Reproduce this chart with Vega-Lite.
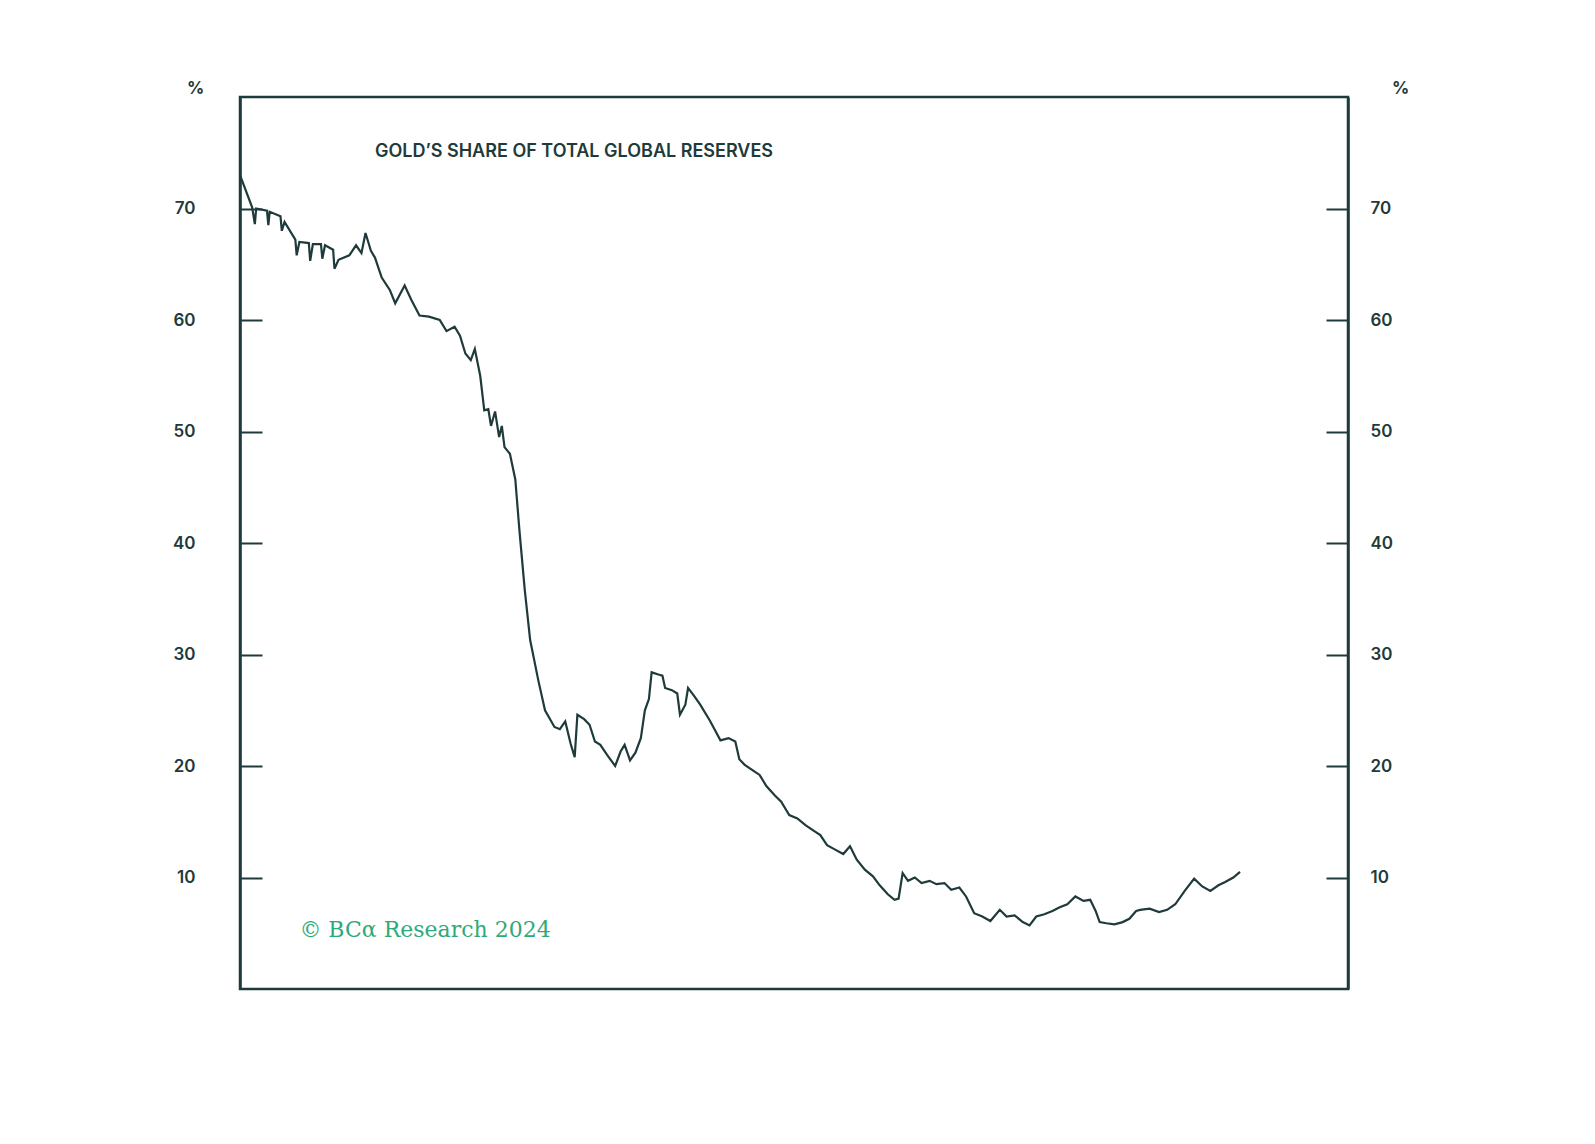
{
  "$schema": "https://vega.github.io/schema/vega-lite/v6.json",
  "width": 1108,
  "height": 892,
  "autosize": "none",
  "padding": {"left": 240, "top": 97, "right": 247, "bottom": 155},
  "background": "white",
  "config": {
    "view": {"stroke": "#1f3a3a", "strokeWidth": 2.5},
    "font": "Inter",
    "axis": {"labelFont": "Inter", "labelFontSize": 17, "labelFontWeight": 600, "labelColor": "#1f3a3a", "domainColor": "#1f3a3a", "domainWidth": 2.5, "tickColor": "#1f3a3a", "tickWidth": 2, "grid": false}
  },
  "datasets": {
    "gold": [
      {"year": 1950.0, "pct": 73.0}, {"year": 1950.9, "pct": 70.1}, {"year": 1951.1, "pct": 68.6}, {"year": 1951.2, "pct": 70.0},
      {"year": 1952.0, "pct": 69.8}, {"year": 1952.1, "pct": 68.5}, {"year": 1952.2, "pct": 69.7}, {"year": 1953.0, "pct": 69.3},
      {"year": 1953.1, "pct": 68.0}, {"year": 1953.3, "pct": 68.8}, {"year": 1954.1, "pct": 67.2}, {"year": 1954.2, "pct": 65.8},
      {"year": 1954.4, "pct": 67.0}, {"year": 1955.1, "pct": 66.9}, {"year": 1955.2, "pct": 65.3}, {"year": 1955.4, "pct": 66.8},
      {"year": 1956.0, "pct": 66.8}, {"year": 1956.1, "pct": 65.5}, {"year": 1956.3, "pct": 66.7}, {"year": 1956.9, "pct": 66.3},
      {"year": 1957.0, "pct": 64.6}, {"year": 1957.3, "pct": 65.4}, {"year": 1958.1, "pct": 65.8}, {"year": 1958.6, "pct": 66.7},
      {"year": 1959.0, "pct": 66.0}, {"year": 1959.3, "pct": 67.8}, {"year": 1959.7, "pct": 66.2}, {"year": 1960.0, "pct": 65.6},
      {"year": 1960.5, "pct": 63.8}, {"year": 1961.1, "pct": 62.7}, {"year": 1961.5, "pct": 61.5}, {"year": 1962.2, "pct": 63.1},
      {"year": 1962.7, "pct": 61.8}, {"year": 1963.3, "pct": 60.4}, {"year": 1964.0, "pct": 60.3}, {"year": 1964.8, "pct": 60.0},
      {"year": 1965.3, "pct": 59.0}, {"year": 1965.9, "pct": 59.4}, {"year": 1966.3, "pct": 58.6}, {"year": 1966.7, "pct": 57.0},
      {"year": 1967.1, "pct": 56.4}, {"year": 1967.4, "pct": 57.4}, {"year": 1967.8, "pct": 55.0}, {"year": 1968.1, "pct": 51.9},
      {"year": 1968.4, "pct": 52.0}, {"year": 1968.6, "pct": 50.5}, {"year": 1968.9, "pct": 51.8}, {"year": 1969.2, "pct": 49.5},
      {"year": 1969.4, "pct": 50.5}, {"year": 1969.6, "pct": 48.6}, {"year": 1970.0, "pct": 48.0}, {"year": 1970.4, "pct": 45.7},
      {"year": 1970.7, "pct": 41.2}, {"year": 1971.1, "pct": 35.8}, {"year": 1971.5, "pct": 31.3}, {"year": 1972.1, "pct": 27.7},
      {"year": 1972.6, "pct": 25.0}, {"year": 1973.3, "pct": 23.5}, {"year": 1973.7, "pct": 23.3}, {"year": 1974.1, "pct": 24.0},
      {"year": 1974.5, "pct": 22.0}, {"year": 1974.8, "pct": 20.8}, {"year": 1975.0, "pct": 24.6}, {"year": 1975.5, "pct": 24.2},
      {"year": 1975.9, "pct": 23.7}, {"year": 1976.3, "pct": 22.2}, {"year": 1976.7, "pct": 21.9}, {"year": 1977.2, "pct": 21.0},
      {"year": 1977.8, "pct": 20.0}, {"year": 1978.2, "pct": 21.3}, {"year": 1978.5, "pct": 21.9}, {"year": 1978.9, "pct": 20.5},
      {"year": 1979.3, "pct": 21.2}, {"year": 1979.7, "pct": 22.5}, {"year": 1980.0, "pct": 25.0}, {"year": 1980.3, "pct": 26.0},
      {"year": 1980.5, "pct": 28.4}, {"year": 1981.0, "pct": 28.2}, {"year": 1981.3, "pct": 28.1}, {"year": 1981.5, "pct": 27.0},
      {"year": 1982.0, "pct": 26.8}, {"year": 1982.4, "pct": 26.5}, {"year": 1982.6, "pct": 24.6}, {"year": 1983.0, "pct": 25.5},
      {"year": 1983.2, "pct": 27.0}, {"year": 1983.7, "pct": 26.2}, {"year": 1984.1, "pct": 25.5}, {"year": 1984.8, "pct": 24.1},
      {"year": 1985.2, "pct": 23.2}, {"year": 1985.6, "pct": 22.3}, {"year": 1986.2, "pct": 22.5}, {"year": 1986.7, "pct": 22.2},
      {"year": 1987.0, "pct": 20.6}, {"year": 1987.4, "pct": 20.1}, {"year": 1988.0, "pct": 19.6}, {"year": 1988.5, "pct": 19.2},
      {"year": 1989.0, "pct": 18.2}, {"year": 1989.6, "pct": 17.4}, {"year": 1990.1, "pct": 16.8}, {"year": 1990.7, "pct": 15.6},
      {"year": 1991.3, "pct": 15.3}, {"year": 1991.9, "pct": 14.7}, {"year": 1992.5, "pct": 14.2}, {"year": 1993.0, "pct": 13.8},
      {"year": 1993.5, "pct": 12.9}, {"year": 1994.1, "pct": 12.5}, {"year": 1994.7, "pct": 12.1}, {"year": 1995.2, "pct": 12.8},
      {"year": 1995.7, "pct": 11.6}, {"year": 1996.3, "pct": 10.7}, {"year": 1996.9, "pct": 10.1}, {"year": 1997.4, "pct": 9.3},
      {"year": 1998.0, "pct": 8.5}, {"year": 1998.5, "pct": 8.0}, {"year": 1998.8, "pct": 8.1}, {"year": 1999.1, "pct": 10.4},
      {"year": 1999.5, "pct": 9.7}, {"year": 2000.0, "pct": 10.0}, {"year": 2000.5, "pct": 9.5}, {"year": 2001.1, "pct": 9.7},
      {"year": 2001.6, "pct": 9.4}, {"year": 2002.2, "pct": 9.5}, {"year": 2002.7, "pct": 8.9}, {"year": 2003.3, "pct": 9.1},
      {"year": 2003.8, "pct": 8.3}, {"year": 2004.4, "pct": 6.8}, {"year": 2005.0, "pct": 6.5}, {"year": 2005.6, "pct": 6.1},
      {"year": 2006.3, "pct": 7.1}, {"year": 2006.8, "pct": 6.5}, {"year": 2007.4, "pct": 6.6}, {"year": 2008.0, "pct": 6.0},
      {"year": 2008.5, "pct": 5.7}, {"year": 2009.0, "pct": 6.5}, {"year": 2009.6, "pct": 6.7}, {"year": 2010.2, "pct": 7.0},
      {"year": 2010.7, "pct": 7.3}, {"year": 2011.3, "pct": 7.6}, {"year": 2011.9, "pct": 8.3}, {"year": 2012.5, "pct": 7.9},
      {"year": 2013.0, "pct": 8.0}, {"year": 2013.4, "pct": 7.0}, {"year": 2013.7, "pct": 6.0}, {"year": 2014.2, "pct": 5.9},
      {"year": 2014.8, "pct": 5.8}, {"year": 2015.4, "pct": 6.0}, {"year": 2015.9, "pct": 6.3}, {"year": 2016.4, "pct": 7.0},
      {"year": 2016.7, "pct": 7.1}, {"year": 2017.4, "pct": 7.2}, {"year": 2018.1, "pct": 6.9}, {"year": 2018.7, "pct": 7.1},
      {"year": 2019.3, "pct": 7.6}, {"year": 2020.0, "pct": 8.8}, {"year": 2020.7, "pct": 9.9}, {"year": 2021.3, "pct": 9.2},
      {"year": 2021.9, "pct": 8.8}, {"year": 2022.5, "pct": 9.3}, {"year": 2023.0, "pct": 9.6}, {"year": 2023.6, "pct": 10.0},
      {"year": 2024.1, "pct": 10.5}
    ],
    "notes": [
      {"year": 1960, "pct": 75.1, "label": "GOLD’S SHARE OF TOTAL GLOBAL RESERVES", "kind": "title"},
      {"year": 1954.4, "pct": 5.3, "label": "© BCα Research 2024", "kind": "credit"}
    ]
  },
  "layer": [
    {
      "data": {"name": "gold"},
      "mark": {"type": "line", "color": "#1f3a3a", "strokeWidth": 2.2},
      "encoding": {
        "x": {"field": "year", "type": "quantitative", "scale": {"domain": [1950, 2032.1], "nice": false, "zero": false},
          "axis": {"title": null, "values": [1950, 1960, 1970, 1980, 1990, 2000, 2010, 2020], "format": "d", "tickSize": -20, "labelAlign": "left", "labelPadding": 36}},
        "y": {"field": "pct", "type": "quantitative", "scale": {"domain": [0, 80], "nice": false},
          "axis": {"title": "%", "titleAngle": 0, "titleX": -45, "titleY": 0, "titleFontSize": 17, "titleColor": "#1f3a3a", "titleFont": "Inter", "titleAlign": "center", "values": [10, 20, 30, 40, 50, 60, 70], "tickSize": -22, "labelPadding": 67}}
      }
    },
    {
      "data": {"name": "gold"},
      "mark": {"type": "line", "opacity": 0},
      "encoding": {
        "x": {"field": "year", "type": "quantitative", "axis": null},
        "y": {"field": "pct", "type": "quantitative",
          "axis": {"orient": "right", "title": "%", "titleAngle": 0, "titleX": 52, "titleY": 0, "titleFontSize": 17, "titleColor": "#1f3a3a", "titleFont": "Inter", "titleAlign": "center", "values": [10, 20, 30, 40, 50, 60, 70], "tickSize": -22, "labelPadding": 44}}
      }
    },
    {
      "data": {"name": "notes"},
      "transform": [{"filter": "datum.kind == 'title'"}],
      "mark": {"type": "text", "align": "left", "font": "Inter", "fontSize": 18, "fontWeight": 600, "color": "#1f3a3a"},
      "encoding": {"x": {"field": "year", "type": "quantitative", "axis": null}, "y": {"field": "pct", "type": "quantitative", "axis": null}, "text": {"field": "label"}}
    },
    {
      "data": {"name": "notes"},
      "transform": [{"filter": "datum.kind == 'credit'"}],
      "mark": {"type": "text", "align": "left", "font": "DejaVu Serif", "fontSize": 22, "color": "#2eaa7a"},
      "encoding": {"x": {"field": "year", "type": "quantitative", "axis": null}, "y": {"field": "pct", "type": "quantitative", "axis": null}, "text": {"field": "label"}}
    }
  ],
  "resolve": {"scale": {"y": "shared"}, "axis": {"y": "independent"}}
}
